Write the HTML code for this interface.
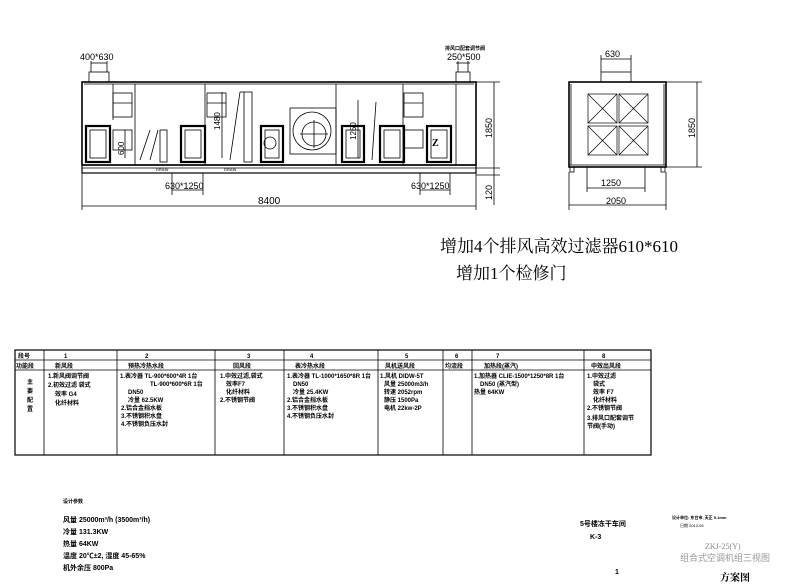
<!DOCTYPE html>
<html><head><meta charset="utf-8"><style>
html,body{margin:0;padding:0;background:#fff;}
svg{display:block;}
text{font-family:"Liberation Sans","Noto Sans CJK SC",sans-serif;fill:#000;}
.s{font-family:"Liberation Serif","Noto Serif CJK SC",serif;}
.t{font-size:6px;font-weight:bold;}
</style></head><body>
<svg width="800" height="586" viewBox="0 0 800 586" xmlns="http://www.w3.org/2000/svg">
<g stroke="#000" fill="none" stroke-width="0.8">
<!-- main unit -->
<rect x="82" y="82" width="394" height="83" stroke-width="1.6"/>
<line x1="84" y1="84" x2="474" y2="84"/>
<rect x="82" y="165" width="394" height="8" stroke-width="1.2"/>
<line x1="82" y1="168" x2="476" y2="168"/>
<!-- top ducts -->
<rect x="89" y="72" width="20" height="10"/>
<rect x="456" y="72" width="14" height="10"/>
<line x1="91" y1="61" x2="91" y2="72"/><line x1="107" y1="61" x2="107" y2="72"/>
<line x1="91" y1="63" x2="107" y2="63"/>
<line x1="458" y1="61" x2="458" y2="72"/><line x1="468" y1="61" x2="468" y2="72"/>
<line x1="456" y1="63" x2="470" y2="63"/>
<!-- section dividers -->
<line x1="135" y1="84" x2="135" y2="165"/>
<line x1="205" y1="84" x2="205" y2="165"/>
<line x1="336" y1="84" x2="336" y2="165"/>
<line x1="403" y1="84" x2="403" y2="165"/>
<line x1="456" y1="84" x2="456" y2="165"/>
<line x1="113" y1="84" x2="113" y2="120"/>
<!-- filter frames -->
<rect x="113" y="93" width="19" height="24"/><line x1="113" y1="103" x2="132" y2="103"/>
<rect x="207" y="93" width="19" height="24"/><line x1="207" y1="103" x2="226" y2="103"/>
<rect x="404" y="93" width="19" height="24"/><line x1="404" y1="103" x2="423" y2="103"/>
<rect x="113" y="130" width="19" height="20"/>
<rect x="404" y="130" width="19" height="18"/>
<!-- coils -->
<line x1="140" y1="160" x2="150" y2="130"/><line x1="150" y1="160" x2="158" y2="130"/>
<rect x="160" y="130" width="7" height="32"/>
<line x1="230" y1="160" x2="240" y2="92"/><line x1="240" y1="92" x2="244" y2="92"/>
<rect x="244" y="92" width="8" height="70"/>
<line x1="372" y1="160" x2="376" y2="102"/>
<!-- fan -->
<rect x="290" y="108" width="46" height="46"/>
<circle cx="312" cy="131" r="19"/>
<circle cx="314" cy="134" r="12"/>
<line x1="300" y1="134" x2="328" y2="134"/><line x1="314" y1="120" x2="314" y2="148"/>
<!-- doors -->
<g stroke-width="2.2">
<rect x="86" y="126" width="24" height="36"/>
<rect x="181" y="126" width="24" height="36"/>
<rect x="261" y="126" width="22" height="36"/>
<rect x="342" y="126" width="22" height="36"/>
<rect x="380" y="126" width="24" height="36"/>
<rect x="427" y="126" width="24" height="36"/>
</g>
<g stroke-width="0.8">
<rect x="90" y="130" width="16" height="28"/>
<rect x="185" y="130" width="16" height="28"/>
<rect x="265" y="130" width="14" height="28"/>
<rect x="346" y="130" width="14" height="28"/>
<rect x="384" y="130" width="16" height="28"/>
<rect x="431" y="130" width="16" height="28"/>
</g>
<circle cx="270" cy="143" r="6"/>
<!-- dims inside -->
<line x1="125" y1="130" x2="125" y2="158"/>
<line x1="222" y1="92" x2="222" y2="158"/>
<line x1="358" y1="100" x2="358" y2="158"/>
<!-- bottom dims -->
<line x1="172" y1="173" x2="172" y2="195"/><line x1="203" y1="173" x2="203" y2="195"/>
<line x1="172" y1="190" x2="203" y2="190"/>
<line x1="420" y1="173" x2="420" y2="195"/><line x1="450" y1="173" x2="450" y2="195"/>
<line x1="420" y1="190" x2="450" y2="190"/>
<line x1="82" y1="173" x2="82" y2="210"/><line x1="476" y1="173" x2="476" y2="210"/>
<line x1="82" y1="206" x2="476" y2="206"/>
<!-- right dims -->
<line x1="476" y1="82" x2="500" y2="82"/><line x1="476" y1="168" x2="500" y2="168"/>
<line x1="476" y1="175" x2="500" y2="175"/>
<line x1="494" y1="82" x2="494" y2="205"/>
<!-- side view -->
<rect x="569" y="82" width="97" height="85" stroke-width="1.6"/>
<line x1="571" y1="84" x2="571" y2="165"/><line x1="664" y1="84" x2="664" y2="165"/>
<line x1="569" y1="165" x2="666" y2="165"/>
<rect x="570" y="167" width="4" height="5"/><rect x="661" y="167" width="4" height="5"/>
<rect x="601" y="72" width="30" height="10"/>
<line x1="601" y1="55" x2="601" y2="72"/><line x1="631" y1="55" x2="631" y2="72"/>
<line x1="601" y1="59" x2="631" y2="59"/>
<g stroke-width="0.7">
<rect x="588" y="94" width="29" height="29"/><rect x="619" y="94" width="29" height="29"/>
<rect x="588" y="126" width="29" height="29"/><rect x="619" y="126" width="29" height="29"/>
<path d="M588 94L617 123M617 94L588 123M619 94L648 123M648 94L619 123M588 126L617 155M617 126L588 155M619 126L648 155M648 126L619 155"/>
</g>
<line x1="587" y1="167" x2="587" y2="192"/><line x1="645" y1="167" x2="645" y2="192"/>
<line x1="587" y1="188" x2="645" y2="188"/>
<line x1="569" y1="172" x2="569" y2="210"/><line x1="666" y1="172" x2="666" y2="210"/>
<line x1="569" y1="205" x2="666" y2="205"/>
<line x1="666" y1="82" x2="702" y2="82"/><line x1="666" y1="167" x2="702" y2="167"/>
<line x1="697" y1="82" x2="697" y2="167"/>
<!-- table -->
<rect x="15" y="350" width="636" height="105" stroke-width="1.2"/>
<line x1="15" y1="360" x2="651" y2="360"/>
<line x1="15" y1="370" x2="651" y2="370"/>
<path d="M44 350V455M117 350V455M215 350V455M284 350V455M378 350V455M443 350V455M472 350V455M584 350V455"/>
</g>
<g font-size="9">
<text x="80" y="60">400*630</text>
<text x="447" y="60">250*500</text>
<text x="165" y="189">630*1250</text>
<text x="411" y="189">630*1250</text>
<text x="258" y="204" font-size="10">8400</text>
<text x="605" y="57">630</text>
<text x="601" y="186">1250</text>
<text x="606" y="204">2050</text>
<text transform="translate(492,138) rotate(-90)">1850</text>
<text transform="translate(492,200) rotate(-90)">120</text>
<text transform="translate(695,138) rotate(-90)">1850</text>
<text transform="translate(124,155) rotate(-90)" font-size="8">600</text>
<text transform="translate(220,130) rotate(-90)" font-size="8">1480</text>
<text transform="translate(356,140) rotate(-90)" font-size="8">1250</text>
</g>
<text x="432" y="146" font-size="10" font-weight="bold" class="s">Z</text>
<text x="445" y="50" font-size="5" font-weight="bold">排风口配套调节阀</text>
<text x="156" y="171" font-size="4">DRAIN</text>
<text x="224" y="171" font-size="4">DRAIN</text>
<text x="440" y="252" font-size="17" class="s">增加4个排风高效过滤器610*610</text>
<text x="456" y="279" font-size="17" class="s">增加1个检修门</text>
<!-- table text -->
<g class="t">
<text x="18" y="358">段号</text><text x="64" y="358">1</text><text x="145" y="358">2</text><text x="247" y="358">3</text><text x="310" y="358">4</text><text x="405" y="358">5</text><text x="455" y="358">6</text><text x="496" y="358">7</text><text x="602" y="358">8</text>
<text x="16" y="368">功能段</text><text x="55" y="368">新风段</text><text x="128" y="368">预热冷热水段</text><text x="233" y="368">回风段</text><text x="295" y="368">表冷热水段</text><text x="385" y="368">风机送风段</text><text x="445" y="368">均流段</text><text x="484" y="368">加热段(蒸汽)</text><text x="591" y="368">中效出风段</text>
<text x="27" y="384">主</text><text x="27" y="393">要</text><text x="27" y="402">配</text><text x="27" y="411">置</text>
<text x="48" y="378">1.新风阀调节阀</text><text x="48" y="387">2.初效过滤 袋式</text><text x="55" y="396">效率 G4</text><text x="55" y="405">化纤材料</text>
<text x="120" y="378">1.表冷器 TL-900*600*4R 1台</text><text x="150" y="386">TL-900*600*6R 1台</text><text x="128" y="394">DN50</text><text x="128" y="402">冷量 62.5KW</text><text x="121" y="410">2.铝合金挡水板</text><text x="121" y="418">3.不锈钢积水盘</text><text x="121" y="426">4.不锈钢负压水封</text>
<text x="220" y="378">1.中效过滤,袋式</text><text x="226" y="386">效率F7</text><text x="226" y="394">化纤材料</text><text x="220" y="402">2.不锈钢节阀</text>
<text x="287" y="378">1.表冷器 TL-1000*1650*8R 1台</text><text x="293" y="386">DN50</text><text x="293" y="394">冷量 25.4KW</text><text x="287" y="402">2.铝合金挡水板</text><text x="287" y="410">3.不锈钢积水盘</text><text x="287" y="418">4.不锈钢负压水封</text>
<text x="380" y="378">1.风机 DIDW-5T</text><text x="384" y="386">风量 25000m3/h</text><text x="384" y="394">转速 2052rpm</text><text x="384" y="402">静压 1500Pa</text><text x="384" y="410">电机 22kw-2P</text>
<text x="474" y="378">1.加热器 CLIE-1500*1250*8R 1台</text><text x="480" y="386">DN50 (蒸汽型)</text><text x="474" y="394">热量 64KW</text>
<text x="587" y="378">1.中效过滤</text><text x="593" y="386">袋式</text><text x="593" y="394">效率 F7</text><text x="593" y="402">化纤材料</text><text x="587" y="410">2.不锈钢节阀</text><text x="587" y="420">3.排风口配套调节</text><text x="587" y="428">节阀(手动)</text>
</g>
<g class="s" font-size="7" font-weight="bold">
<text x="63" y="503" font-size="5">设计参数</text>
<text x="63" y="522">风量 25000m³/h (3500m³/h)</text>
<text x="63" y="534">冷量 131.3KW</text>
<text x="63" y="546">热量 64KW</text>
<text x="63" y="558">温度 20℃±2, 湿度 45-65%</text>
<text x="63" y="570">机外余压 800Pa</text>
<text x="580" y="526">5号楼冻干车间</text>
<text x="590" y="539">K-3</text>
<text x="615" y="574">1</text>
</g>
<text x="672" y="519" font-size="4" font-weight="bold">设计单位: 东台市, 天正 5.1mm</text>
<text x="680" y="527" font-size="4">日期 2012.05</text>
<text x="705" y="549" font-size="8" fill="#777" class="s" style="fill:#888">ZKJ-25(Y)</text>
<text x="680" y="561" font-size="9" style="fill:#999">组合式空调机组三视图</text>
<text x="720" y="581" font-size="10" font-weight="bold" class="s">方案图</text>
</svg>
</body></html>
